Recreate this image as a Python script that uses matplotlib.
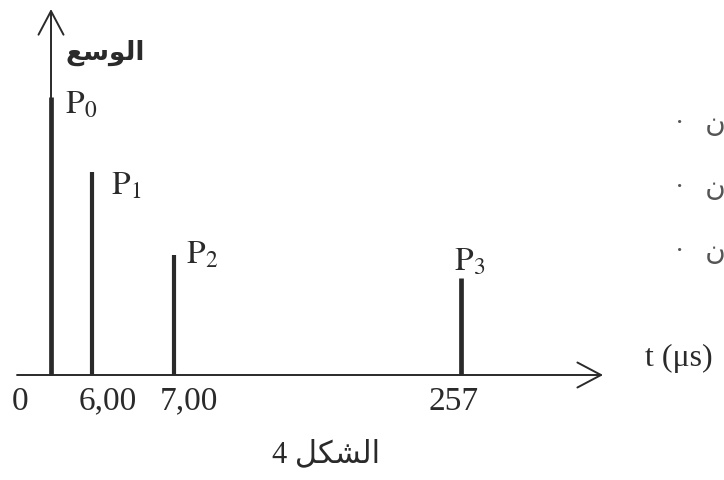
import numpy as np
import matplotlib
matplotlib.use("Agg")
from matplotlib import pyplot as plt

# echo diagram data (amplitude in arbitrary units, time in microseconds)
times = [0, 6.00, 7.00, 257]
amplitudes = [2.78, 2.03, 1.20, 0.97]
peak_labels = [r"$\mathrm{P}_0$", r"$\mathrm{P}_1$", r"$\mathrm{P}_2$", r"$\mathrm{P}_3$"]
tick_labels = ["0", "6,00", "7,00", "257"]

# arabic text, already shaped and written in visual (left to right) order
amp_label = "\uFECA\uFEB3\uFEEE\uFEDF\uFE8D"        # الوسع
fig_label = "4 \uFEDE\uFEDC\uFEB8\uFEDF\uFE8D"      # الشكل 4
side_label = "\u00b7   \uFEE5"                        # cut-off text on the right
time_label = "t (\u03bcs)"

# the time axis is schematic, not to scale
break_t = [-60, 0, 6.00, 7.00, 257, 857]
break_x = [-10, 0, 1, 3, 10, 26.8]


def fwd(t):
    return np.interp(t, break_t, break_x)


def inv(x):
    return np.interp(x, break_x, break_t)


plt.rcParams["font.family"] = ["Liberation Serif", "DejaVu Sans"]
plt.rcParams["mathtext.fontset"] = "stix"
ink = "#2a2a2a"

fig = plt.figure(figsize=(7.24, 4.8), dpi=100)
ax = fig.add_axes([0, 0, 1, 1])
ax.set_xscale("function", functions=(fwd, inv))
ax.set_xlim(inv(-1.244), inv(16.415))
ax.set_ylim(-1.05, 3.75)
ax.axis("off")

# axes with open arrow heads
arrow = dict(arrowstyle="->,head_length=0.85,head_width=0.45", lw=1.4,
             color=ink, shrinkA=0, shrinkB=0, mutation_scale=20)
ax.annotate("", xy=(0.833, 0), xytext=(0.0235, 0),
            xycoords=("axes fraction", "data"), arrowprops=arrow)
ax.annotate("", xy=(0, 3.66), xytext=(0, 0), arrowprops=arrow)

# peaks
ax.vlines(times, 0, amplitudes, colors=ink, lw=[3.4, 3.0, 3.0, 3.4])

label_off = [(10, -6), (14, -10), (9, 0), (6.5, 11)]
label_ha = ["left", "left", "left", "center"]
for t, a, lab, off, ha in zip(times, amplitudes, peak_labels, label_off, label_ha):
    ax.annotate(lab, xy=(t, a), xytext=off, textcoords="offset points",
                ha=ha, va="center", fontsize=24, color=ink)

tick_off = [-22, 11, 11, -5]
for t, lab, dx in zip(times, tick_labels, tick_off):
    ax.annotate(lab, xy=(t, 0), xytext=(dx, -19), textcoords="offset points",
                ha="center", va="center", fontsize=24, color=ink)

fig.text(0.145, 0.89, amp_label, ha="center", va="center", fontsize=19,
         color=ink, fontweight="bold")
fig.text(0.450, 0.052, fig_label, ha="center", va="center", fontsize=22, color=ink)
fig.text(0.937, 0.254, time_label, ha="center", va="center", fontsize=23, color=ink)
for y in [0.74, 0.608, 0.475]:
    fig.text(0.932, y, side_label, ha="left", va="center", fontsize=20, color="#555555")

fig.savefig("out.png", dpi=100, facecolor="white")
